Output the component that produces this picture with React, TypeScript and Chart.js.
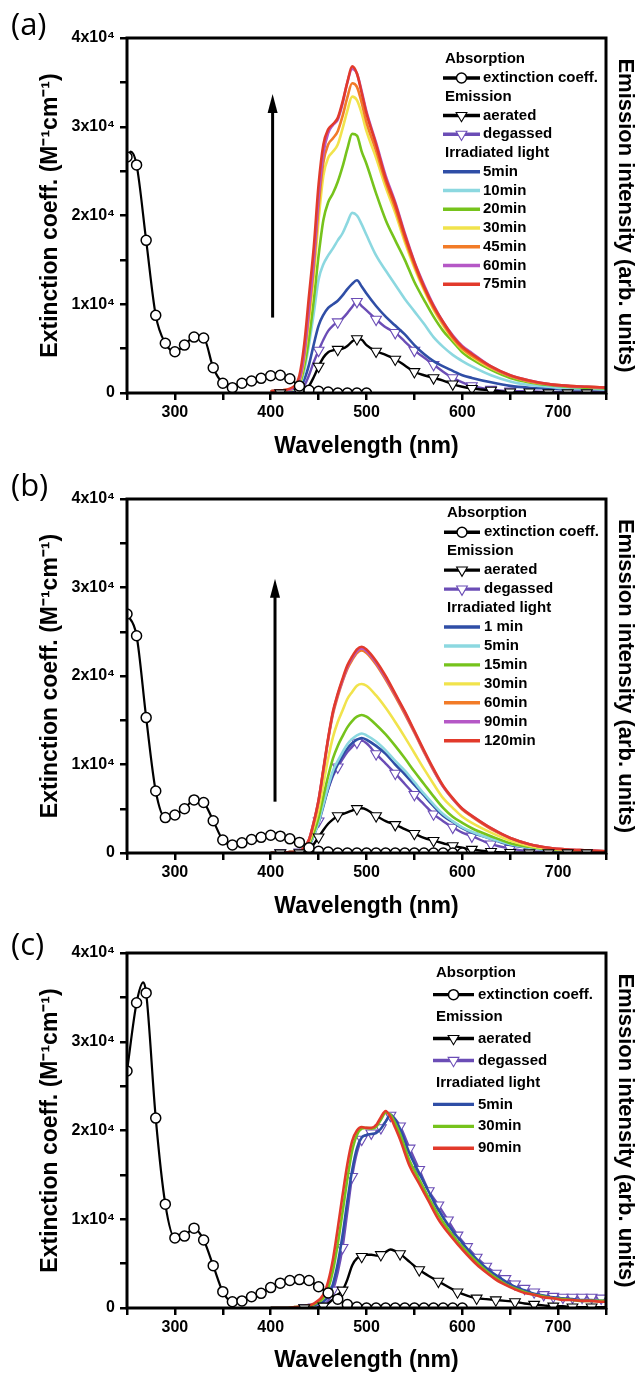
import React, { useEffect, useRef } from 'react';
import { Chart, registerables } from 'chart.js';
Chart.register(...registerables);

const FONT = "'Liberation Sans', Arial, Helvetica, sans-serif";
Chart.defaults.font.family = FONT;

// ---------- tick labels ----------
const xTickLabels = [300, 400, 500, 600, 700];
const yTickLabels = [0, 1, 2, 3, 4]; // units of 10^4

// ---------- wavelength grids (nm) ----------
const emWl = [400, 410, 420, 430, 435, 440, 445, 450, 455, 460, 465, 470, 475, 480, 485, 490, 495, 500, 510, 520, 530, 540, 550, 560, 570, 580, 590, 600, 610, 630, 650, 670, 690, 710, 730, 750];
const emWlC = [400, 415, 425, 435, 445, 455, 460, 465, 470, 475, 480, 485, 490, 495, 500, 505, 510, 515, 520, 525, 530, 535, 545, 555, 565, 575, 585, 595, 605, 615, 625, 635, 645, 655, 665, 675, 685, 695, 705, 715, 725, 735, 745, 750];

// ---------- panel (a) ----------
const absWlA = [250, 254, 260, 270, 280, 290, 300, 310, 320, 330, 340, 350, 360, 370, 380, 390, 400, 410, 420, 430, 440, 450, 460, 470, 480, 490, 500];
const absA = [2.66, 2.72, 2.57, 1.72, 0.875, 0.56, 0.465, 0.54, 0.63, 0.62, 0.285, 0.11, 0.06, 0.11, 0.135, 0.165, 0.195, 0.2, 0.16, 0.08, 0.03, 0.02, 0.01, 0, 0, 0, 0];
const aeratedA = [0, 0, 0, 0.01, 0.03, 0.08, 0.18, 0.3, 0.4, 0.46, 0.48, 0.49, 0.5, 0.53, 0.58, 0.61, 0.6, 0.54, 0.47, 0.43, 0.38, 0.31, 0.24, 0.2, 0.17, 0.14, 0.1, 0.07, 0.05, 0.03, 0.01, 0.01, 0, 0, 0, 0];
const degassedA = [0.01, 0, 0.01, 0.02, 0.08, 0.2, 0.35, 0.48, 0.6, 0.7, 0.76, 0.8, 0.84, 0.9, 0.97, 1.03, 0.98, 0.93, 0.83, 0.74, 0.68, 0.58, 0.48, 0.4, 0.32, 0.24, 0.17, 0.12, 0.08, 0.04, 0.02, 0.02, 0.01, 0.01, 0.01, 0.01];
const a5min = [0.02, 0.02, 0.03, 0.06, 0.15, 0.32, 0.55, 0.76, 0.88, 0.96, 1.0, 1.04, 1.1, 1.17, 1.23, 1.27, 1.2, 1.12, 0.98, 0.86, 0.76, 0.66, 0.54, 0.44, 0.36, 0.3, 0.25, 0.2, 0.17, 0.12, 0.08, 0.06, 0.05, 0.04, 0.04, 0.04];
const a10min = [0.02, 0.02, 0.03, 0.08, 0.25, 0.55, 0.9, 1.28, 1.45, 1.55, 1.63, 1.72, 1.8, 1.92, 2.03, 2.0, 1.9, 1.78, 1.55, 1.38, 1.22, 1.06, 0.92, 0.78, 0.63, 0.52, 0.43, 0.36, 0.3, 0.2, 0.13, 0.09, 0.07, 0.05, 0.05, 0.04];
const a20min = [0.02, 0.03, 0.04, 0.1, 0.3, 0.62, 1.05, 1.55, 1.95, 2.15, 2.25, 2.38, 2.55, 2.75, 2.92, 2.9, 2.72, 2.58, 2.25, 1.95, 1.72, 1.5, 1.25, 1.05, 0.86, 0.7, 0.58, 0.46, 0.38, 0.26, 0.17, 0.12, 0.09, 0.07, 0.06, 0.05];
const a30min = [0.02, 0.03, 0.04, 0.12, 0.38, 0.82, 1.32, 1.95, 2.45, 2.65, 2.72, 2.8, 2.98, 3.18, 3.34, 3.3, 3.15, 2.95, 2.65, 2.32, 2.03, 1.7, 1.41, 1.16, 0.94, 0.76, 0.61, 0.49, 0.41, 0.28, 0.19, 0.13, 0.1, 0.08, 0.07, 0.06];
const a45min = [0.02, 0.03, 0.04, 0.14, 0.42, 0.9, 1.42, 2.1, 2.6, 2.8, 2.87, 2.95, 3.12, 3.33, 3.49, 3.45, 3.27, 3.05, 2.73, 2.38, 2.08, 1.74, 1.44, 1.18, 0.96, 0.78, 0.62, 0.5, 0.42, 0.29, 0.19, 0.13, 0.1, 0.08, 0.07, 0.06];
const a60min = [0.02, 0.03, 0.04, 0.15, 0.45, 0.95, 1.5, 2.2, 2.7, 2.93, 3.02, 3.08, 3.26, 3.5, 3.65, 3.6, 3.4, 3.17, 2.82, 2.45, 2.15, 1.8, 1.48, 1.22, 0.99, 0.8, 0.65, 0.53, 0.45, 0.3, 0.2, 0.14, 0.1, 0.08, 0.07, 0.06];
const a75min = [0.02, 0.03, 0.05, 0.2, 0.55, 1.1, 1.65, 2.35, 2.8, 2.97, 3.03, 3.1, 3.28, 3.5, 3.68, 3.6, 3.38, 3.15, 2.8, 2.42, 2.13, 1.78, 1.47, 1.2, 0.98, 0.8, 0.64, 0.52, 0.44, 0.3, 0.2, 0.14, 0.1, 0.08, 0.07, 0.06];
const arrowA = [402, 0.85, 3.37]; // x (nm), tail y, head y

// ---------- panel (b) ----------
const absWlB = [250, 260, 270, 280, 290, 300, 310, 320, 330, 340, 350, 360, 370, 380, 390, 400, 410, 420, 430, 440, 450, 460, 470, 480, 490, 500, 510, 520, 530, 540, 550, 560, 570, 580, 590, 600];
const absB = [2.7, 2.455, 1.53, 0.7, 0.4, 0.43, 0.5, 0.6, 0.57, 0.365, 0.147, 0.09, 0.115, 0.153, 0.177, 0.2, 0.19, 0.16, 0.12, 0.06, 0.02, 0.01, 0, 0, 0, 0, 0, 0, 0, 0, 0, 0, 0, 0, 0, 0];
const aeratedB = [0, 0, 0, 0, 0.01, 0.04, 0.1, 0.18, 0.26, 0.33, 0.38, 0.42, 0.44, 0.46, 0.48, 0.5, 0.505, 0.49, 0.42, 0.36, 0.32, 0.27, 0.22, 0.17, 0.14, 0.11, 0.08, 0.06, 0.04, 0.015, 0.005, 0, 0, 0, 0, 0];
const degassedB = [0, 0, 0, 0.01, 0.03, 0.08, 0.2, 0.36, 0.55, 0.72, 0.87, 0.97, 1.06, 1.14, 1.2, 1.25, 1.27, 1.24, 1.12, 1.01, 0.9, 0.78, 0.66, 0.55, 0.44, 0.36, 0.29, 0.23, 0.19, 0.1, 0.05, 0.02, 0.01, 0, 0, 0];
const b1min = [0, 0, 0.01, 0.01, 0.03, 0.08, 0.2, 0.34, 0.53, 0.73, 0.89, 1.0, 1.1, 1.18, 1.24, 1.28, 1.3, 1.28, 1.21, 1.12, 1.0, 0.89, 0.77, 0.65, 0.53, 0.42, 0.35, 0.28, 0.23, 0.16, 0.09, 0.06, 0.03, 0.02, 0.017, 0.012];
const b5min = [0, 0, 0.01, 0.01, 0.04, 0.09, 0.2, 0.35, 0.55, 0.75, 0.93, 1.04, 1.14, 1.23, 1.29, 1.33, 1.35, 1.33, 1.26, 1.16, 1.04, 0.93, 0.8, 0.67, 0.55, 0.44, 0.36, 0.29, 0.24, 0.16, 0.1, 0.06, 0.035, 0.023, 0.018, 0.012];
const b15min = [0, 0, 0.01, 0.01, 0.04, 0.1, 0.23, 0.4, 0.64, 0.87, 1.07, 1.21, 1.32, 1.42, 1.49, 1.54, 1.56, 1.54, 1.45, 1.34, 1.21, 1.07, 0.92, 0.78, 0.64, 0.51, 0.41, 0.34, 0.28, 0.19, 0.11, 0.07, 0.04, 0.03, 0.02, 0.01];
const b30min = [0, 0, 0.01, 0.02, 0.05, 0.12, 0.29, 0.49, 0.78, 1.07, 1.31, 1.48, 1.61, 1.74, 1.82, 1.89, 1.91, 1.89, 1.78, 1.64, 1.48, 1.31, 1.13, 0.95, 0.78, 0.62, 0.51, 0.41, 0.34, 0.23, 0.14, 0.08, 0.05, 0.03, 0.02, 0.02];
const b60min = [0, 0, 0.01, 0.02, 0.06, 0.15, 0.34, 0.59, 0.93, 1.28, 1.57, 1.77, 1.94, 2.08, 2.18, 2.26, 2.29, 2.26, 2.13, 1.96, 1.77, 1.57, 1.36, 1.14, 0.93, 0.75, 0.61, 0.49, 0.41, 0.27, 0.17, 0.1, 0.06, 0.04, 0.03, 0.02];
const b90min = [0, 0, 0.01, 0.02, 0.06, 0.15, 0.35, 0.6, 0.94, 1.29, 1.59, 1.79, 1.95, 2.1, 2.2, 2.28, 2.31, 2.28, 2.15, 1.98, 1.79, 1.59, 1.37, 1.15, 0.94, 0.75, 0.61, 0.5, 0.42, 0.28, 0.17, 0.1, 0.06, 0.04, 0.03, 0.02];
const b120min = [0, 0, 0.01, 0.02, 0.06, 0.15, 0.35, 0.6, 0.95, 1.3, 1.6, 1.8, 1.97, 2.12, 2.22, 2.3, 2.33, 2.3, 2.17, 2.0, 1.8, 1.6, 1.38, 1.16, 0.95, 0.76, 0.62, 0.5, 0.42, 0.28, 0.17, 0.1, 0.06, 0.04, 0.03, 0.02];
const arrowB = [404.5, 0.58, 3.1];

// ---------- panel (c) ----------
const absWlC = [250, 260, 267, 270, 280, 290, 300, 310, 320, 330, 340, 350, 360, 370, 380, 390, 400, 410, 420, 430, 440, 450, 460, 470, 480, 490, 500, 510, 520, 530, 540, 550, 560, 570, 580, 590, 600];
const absC = [2.67, 3.44, 3.67, 3.55, 2.14, 1.17, 0.79, 0.81, 0.9, 0.766, 0.477, 0.184, 0.07, 0.08, 0.127, 0.165, 0.23, 0.28, 0.31, 0.32, 0.31, 0.24, 0.17, 0.1, 0.04, 0.01, 0, 0, 0, 0, 0, 0, 0, 0, 0, 0, 0];
const aeratedC = [0, 0, 0, 0, 0, 0.02, 0.05, 0.1, 0.15, 0.2, 0.32, 0.48, 0.56, 0.58, 0.6, 0.6, 0.59, 0.6, 0.63, 0.66, 0.64, 0.61, 0.52, 0.43, 0.36, 0.3, 0.24, 0.18, 0.14, 0.11, 0.1, 0.09, 0.08, 0.07, 0.05, 0.04, 0.03, 0.02, 0.02, 0.01, 0.01, 0.01, 0.01, 0.01];
const degassedC = [0, 0, 0, 0, 0.01, 0.03, 0.08, 0.2, 0.4, 0.68, 1.08, 1.48, 1.75, 1.9, 1.95, 1.97, 1.98, 2.03, 2.1, 2.17, 2.13, 2.05, 1.8, 1.56, 1.32, 1.16, 0.99, 0.82, 0.69, 0.57, 0.47, 0.39, 0.33, 0.27, 0.22, 0.18, 0.15, 0.13, 0.12, 0.12, 0.12, 0.12, 0.11, 0.1];
const c5min = [0, 0, 0, 0.01, 0.03, 0.07, 0.13, 0.27, 0.5, 0.82, 1.2, 1.55, 1.8, 1.92, 1.95, 1.96, 1.97, 2.02, 2.1, 2.18, 2.12, 2.02, 1.74, 1.52, 1.31, 1.11, 0.94, 0.8, 0.67, 0.55, 0.45, 0.37, 0.3, 0.24, 0.2, 0.16, 0.14, 0.12, 0.11, 0.1, 0.09, 0.09, 0.08, 0.08];
const c30min = [0, 0, 0.01, 0.02, 0.04, 0.11, 0.22, 0.42, 0.72, 1.08, 1.45, 1.77, 1.95, 2.02, 2.03, 2.02, 2.04, 2.12, 2.2, 2.18, 2.08, 1.96, 1.66, 1.45, 1.24, 1.05, 0.89, 0.75, 0.63, 0.52, 0.42, 0.34, 0.27, 0.22, 0.18, 0.15, 0.13, 0.11, 0.1, 0.09, 0.08, 0.08, 0.08, 0.08];
const c90min = [0, 0, 0.01, 0.02, 0.05, 0.15, 0.3, 0.55, 0.9, 1.27, 1.62, 1.88, 2.0, 2.04, 2.03, 2.03, 2.06, 2.15, 2.22, 2.15, 2.03, 1.9, 1.6, 1.4, 1.2, 1.0, 0.85, 0.72, 0.6, 0.49, 0.4, 0.32, 0.26, 0.21, 0.17, 0.15, 0.12, 0.11, 0.09, 0.09, 0.08, 0.08, 0.07, 0.07];

// ---------- colours ----------
const COL = {
  blue: '#2f4ea6',
  cyan: '#8cd8e0',
  green: '#76c31c',
  yellow: '#f1e34c',
  orange: '#f27b28',
  magenta: '#b558c6',
  red: '#e23a2b',
  degassed: '#6b4db6',
  black: '#000000',
};

type Row = { header?: boolean; text: string; label?: string };

const markAbs = (x: number) => x % 10 === 0;
const markEmAB = (x: number) => (x - 410) % 20 === 0 && x <= 730;
const markDegC = (x: number) => x % 10 === 5 && x >= 435;
const markAerC = (x: number) => (x - 15) % 20 === 0 && x >= 435 && x <= 735;

function pts(xs: number[], ys: number[]) {
  return xs.map((x, i) => ({ x, y: ys[i] }));
}

function emissionDs(label: string, xs: number[], ys: number[], color: string, order: number) {
  return {
    label,
    data: pts(xs, ys),
    borderColor: color,
    backgroundColor: color,
    borderWidth: 2.6,
    pointRadius: 0,
    cubicInterpolationMode: 'monotone',
    order,
    marker: null,
  };
}

function markedDs(label: string, xs: number[], ys: number[], color: string, order: number, kind: 'circle' | 'triangle', isMark: (x: number) => boolean, width = 2.4) {
  return {
    label,
    data: pts(xs, ys),
    borderColor: color,
    backgroundColor: color,
    borderWidth: width,
    cubicInterpolationMode: 'monotone',
    pointStyle: kind,
    rotation: kind === 'triangle' ? 180 : 0,
    pointRadius: (ctx: any) => (ctx.raw && isMark(ctx.raw.x) ? (kind === 'triangle' ? 6.2 : 5) : 0),
    pointBackgroundColor: '#ffffff',
    pointBorderColor: color,
    pointBorderWidth: kind === 'triangle' ? 1.1 : 1.5,
    order,
    marker: kind,
  };
}

function irrRows(names: string[]): Row[] {
  return names.map((n) => ({ text: n, label: n }));
}

const baseRows: Row[] = [
  { header: true, text: 'Absorption' },
  { text: 'extinction coeff.', label: 'extinction coeff.' },
  { header: true, text: 'Emission' },
  { text: 'aerated', label: 'aerated' },
  { text: 'degassed', label: 'degassed' },
  { header: true, text: 'Irradiated light' },
];

const panels = [
  {
    key: 'a', top: 0, height: 460, padTop: 38, xAxisH: 67, label: '(a)', labelTop: 3,
    datasets: [
      markedDs('extinction coeff.', absWlA, absA, COL.black, 0, 'circle', markAbs, 2.2),
      markedDs('aerated', emWl, aeratedA, COL.black, 1, 'triangle', markEmAB),
      emissionDs('75min', emWl, a75min, COL.red, 3),
      emissionDs('60min', emWl, a60min, COL.magenta, 4),
      emissionDs('45min', emWl, a45min, COL.orange, 5),
      emissionDs('30min', emWl, a30min, COL.yellow, 6),
      emissionDs('20min', emWl, a20min, COL.green, 7),
      emissionDs('10min', emWl, a10min, COL.cyan, 8),
      emissionDs('5min', emWl, a5min, COL.blue, 9),
      markedDs('degassed', emWl, degassedA, COL.degassed, 10, 'triangle', markEmAB),
    ],
    legend: { hx: 445, sx0: 443, sx1: 480, tx: 483, y0: 59.3, dy: 18.75, rows: [...baseRows, ...irrRows(['5min', '10min', '20min', '30min', '45min', '60min', '75min'])] },
    arrow: arrowA,
  },
  {
    key: 'b', top: 460, height: 460, padTop: 39, xAxisH: 67, label: '(b)', labelTop: 464,
    datasets: [
      markedDs('extinction coeff.', absWlB, absB, COL.black, 0, 'circle', markAbs, 2.2),
      markedDs('aerated', emWl, aeratedB, COL.black, 1, 'triangle', markEmAB),
      emissionDs('120min', emWl, b120min, COL.red, 3),
      emissionDs('90min', emWl, b90min, COL.magenta, 4),
      emissionDs('60min', emWl, b60min, COL.orange, 5),
      emissionDs('30min', emWl, b30min, COL.yellow, 6),
      emissionDs('15min', emWl, b15min, COL.green, 7),
      emissionDs('5min', emWl, b5min, COL.cyan, 8),
      emissionDs('1 min', emWl, b1min, COL.blue, 9),
      markedDs('degassed', emWl, degassedB, COL.degassed, 10, 'triangle', markEmAB),
    ],
    legend: { hx: 447, sx0: 444, sx1: 480, tx: 484, y0: 53.3, dy: 18.95, rows: [...baseRows, ...irrRows(['1 min', '5min', '15min', '30min', '60min', '90min', '120min'])] },
    arrow: arrowB,
  },
  {
    key: 'c', top: 920, height: 454, padTop: 33, xAxisH: 66, label: '(c)', labelTop: 923,
    datasets: [
      markedDs('extinction coeff.', absWlC, absC, COL.black, 0, 'circle', markAbs, 2.2),
      markedDs('aerated', emWlC, aeratedC, COL.black, 1, 'triangle', markAerC),
      emissionDs('90min', emWlC, c90min, COL.red, 3),
      emissionDs('30min', emWlC, c30min, COL.green, 4),
      emissionDs('5min', emWlC, c5min, COL.blue, 5),
      markedDs('degassed', emWlC, degassedC, COL.degassed, 10, 'triangle', markDegC),
    ],
    legend: { hx: 436, sx0: 433, sx1: 474, tx: 478, y0: 52.7, dy: 21.95, rows: [...baseRows, ...irrRows(['5min', '30min', '90min'])] },
    arrow: null as number[] | null,
  },
];

function drawMarker(ctx: CanvasRenderingContext2D, kind: string, cx: number, cy: number, color: string) {
  ctx.save();
  ctx.fillStyle = '#fff';
  ctx.strokeStyle = color;
  ctx.beginPath();
  if (kind === 'circle') {
    ctx.lineWidth = 1.5;
    ctx.arc(cx, cy, 5, 0, Math.PI * 2);
  } else {
    ctx.lineWidth = 1.1;
    const r = 6.2;
    ctx.moveTo(cx - r * 0.866, cy - r * 0.5);
    ctx.lineTo(cx + r * 0.866, cy - r * 0.5);
    ctx.lineTo(cx, cy + r);
    ctx.closePath();
  }
  ctx.fill();
  ctx.stroke();
  ctx.restore();
}

function makePlugins(p: any) {
  const frame = {
    id: 'frame_' + p.key,
    afterDatasetsDraw(chart: any) {
      const { ctx, chartArea: a } = chart;
      ctx.save();
      ctx.strokeStyle = '#000';
      ctx.lineWidth = 3;
      ctx.strokeRect(a.left, a.top, a.right - a.left, a.bottom - a.top);
      ctx.restore();
    },
  };
  const arrow = {
    id: 'arrow_' + p.key,
    afterDatasetsDraw(chart: any) {
      if (!p.arrow) return;
      const { ctx, scales } = chart;
      const x = scales.x.getPixelForValue(p.arrow[0]);
      const y0 = scales.y.getPixelForValue(p.arrow[1]);
      const y1 = scales.y.getPixelForValue(p.arrow[2]);
      const head = 19;
      ctx.save();
      ctx.strokeStyle = '#000';
      ctx.fillStyle = '#000';
      ctx.lineWidth = 3;
      ctx.beginPath();
      ctx.moveTo(x, y0);
      ctx.lineTo(x, y1 + head - 2);
      ctx.stroke();
      ctx.beginPath();
      ctx.moveTo(x, y1);
      ctx.lineTo(x - 5, y1 + head);
      ctx.lineTo(x + 5, y1 + head);
      ctx.closePath();
      ctx.fill();
      ctx.restore();
    },
  };
  const legend = {
    id: 'legend_' + p.key,
    afterDraw(chart: any) {
      const { ctx } = chart;
      const L = p.legend;
      ctx.save();
      ctx.font = `bold 15px ${FONT}`;
      ctx.textBaseline = 'middle';
      ctx.textAlign = 'left';
      L.rows.forEach((row: Row, i: number) => {
        const y = L.y0 + i * L.dy;
        ctx.fillStyle = '#000';
        if (row.header) {
          ctx.fillText(row.text, L.hx, y);
          return;
        }
        const ds = chart.data.datasets.find((d: any) => d.label === row.label);
        ctx.strokeStyle = ds.borderColor;
        ctx.lineWidth = 3.4;
        ctx.beginPath();
        ctx.moveTo(L.sx0, y);
        ctx.lineTo(L.sx1, y);
        ctx.stroke();
        if (ds.marker) drawMarker(ctx, ds.marker, (L.sx0 + L.sx1) / 2, y, ds.borderColor);
        ctx.fillStyle = '#000';
        ctx.fillText(row.text, L.tx, y);
      });
      ctx.restore();
    },
  };
  return [frame, arrow, legend];
}

function Panel({ p }: { p: any }) {
  const ref = useRef<HTMLCanvasElement | null>(null);
  useEffect(() => {
    if (!ref.current) return;
    const tickFont = { size: 16, weight: 'bold' as const };
    const chart = new Chart(ref.current, {
      type: 'line',
      data: { datasets: p.datasets as any },
      options: {
        animation: false,
        responsive: false,
        events: [],
        layout: { padding: { top: p.padTop, left: 0, right: 0, bottom: 0 } },
        plugins: { legend: { display: false }, tooltip: { enabled: false } },
        scales: {
          x: {
            type: 'linear',
            position: 'bottom',
            min: 250,
            max: 750,
            afterFit: (s: any) => { s.height = p.xAxisH; },
            ticks: {
              stepSize: 50,
              autoSkip: false,
              maxRotation: 0,
              color: '#000',
              font: tickFont,
              padding: 3,
              callback: (v: any) => (xTickLabels.includes(Number(v)) ? String(v) : ''),
            },
            grid: { display: true, drawOnChartArea: false, drawTicks: true, tickLength: 7, color: '#000', lineWidth: 2.5 },
            border: { display: false },
            title: { display: true, text: 'Wavelength (nm)', color: '#000', font: { size: 23, weight: 'bold' }, padding: { top: 0, bottom: 0 } },
          },
          y: {
            type: 'linear',
            position: 'left',
            min: 0,
            max: 4,
            afterFit: (s: any) => { s.width = 127; },
            ticks: {
              stepSize: 0.5,
              autoSkip: false,
              color: '#000',
              font: tickFont,
              padding: 5,
              callback: (v: any) => {
                const n = Number(v);
                if (!yTickLabels.includes(n)) return '';
                return n === 0 ? '0' : `${n}x10\u2074`;
              },
            },
            grid: { display: true, drawOnChartArea: false, drawTicks: true, tickLength: 7, color: '#000', lineWidth: 2.5 },
            border: { display: false },
            title: { display: true, text: 'Extinction coeff. (M\u207B\u00B9cm\u207B\u00B9)', color: '#000', font: { size: 23, weight: 'bold' }, padding: { top: 37, bottom: 0 } },
          },
          y2: {
            type: 'linear',
            position: 'right',
            min: 0,
            max: 4,
            afterFit: (s: any) => { s.width = 32; },
            ticks: { display: false },
            grid: { display: false },
            border: { display: false },
            title: { display: true, text: 'Emission intensity (arb. units)', color: '#000', font: { size: 22, weight: 'bold' }, padding: { top: 0, bottom: 0 } },
          },
        },
      } as any,
      plugins: makePlugins(p),
    });
    return () => chart.destroy();
  }, [p]);
  return (
    <div style={{ position: 'absolute', left: 0, top: p.top, width: 638, height: p.height }}>
      <canvas ref={ref} width={638} height={p.height} style={{ display: 'block' }} />
    </div>
  );
}

export default function App() {
  return (
    <div style={{ position: 'absolute', left: 0, top: 0, width: 638, height: 1374, background: '#fff', overflow: 'hidden' }}>
      {panels.map((p) => (
        <Panel key={p.key} p={p} />
      ))}
      {panels.map((p) => (
        <div
          key={'lbl' + p.key}
          style={{ position: 'absolute', left: 11, top: p.labelTop, fontFamily: "'Open Sans', 'Noto Sans', sans-serif", fontSize: 31, lineHeight: '40px', color: '#000' }}
        >
          {p.label}
        </div>
      ))}
    </div>
  );
}
